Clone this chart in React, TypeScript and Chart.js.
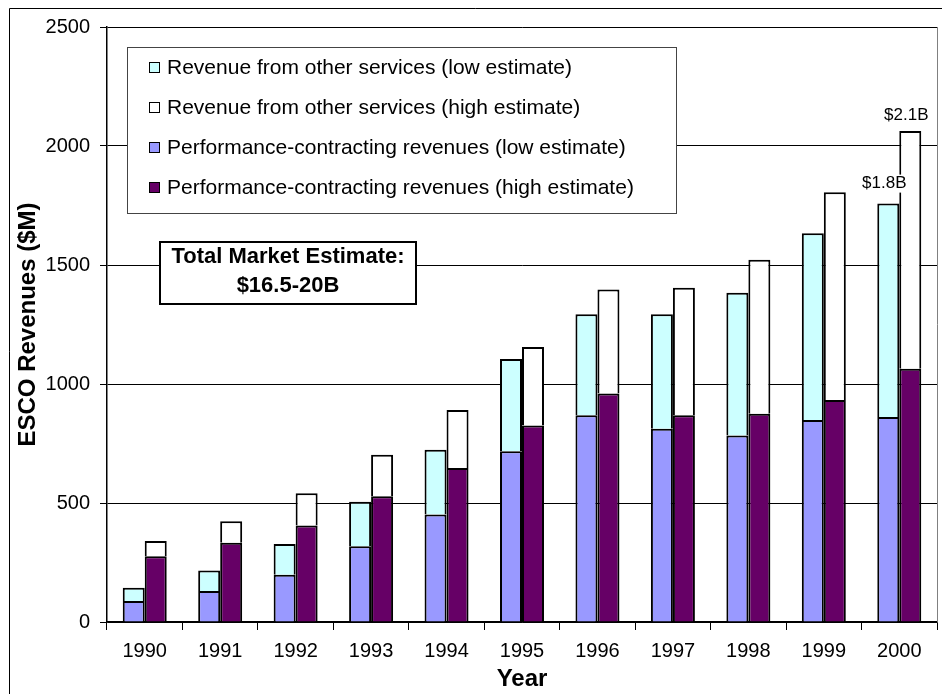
import React, { useEffect, useRef } from "react";
import { Chart, registerables } from "chart.js";

Chart.register(...registerables);

const years = ["1990", "1991", "1992", "1993", "1994", "1995", "1996", "1997", "1998", "1999", "2000"];
const perfLow = [88, 130, 199, 318, 452, 717, 869, 812, 784, 849, 861];
const otherLow = [56, 86, 129, 187, 272, 388, 424, 481, 599, 784, 897];
const perfHigh = [276, 333, 405, 528, 647, 826, 960, 869, 875, 933, 1064];
const otherHigh = [64, 90, 136, 175, 244, 329, 437, 535, 647, 873, 999];

const seriesNames = [
  "Performance-contracting revenues (low estimate)",
  "Revenue from other services (low estimate)",
  "Performance-contracting revenues (high estimate)",
  "Revenue from other services (high estimate)",
];
const legendOrder = [1, 3, 0, 2];
const totalBoxLines = ["Total Market Estimate:", "$16.5-20B"];
const annotations = [
  { text: "$1.8B", dataset: 1, index: 10 },
  { text: "$2.1B", dataset: 3, index: 10 },
];
const yTitle = "ESCO Revenues ($M)";
const xTitle = "Year";

const FONT = "'Liberation Sans', Arial, Helvetica, sans-serif";
const colors = ["#9999FF", "#CCFFFF", "#660066", "#FFFFFF"];

const overlay = {
  id: "overlay",
  beforeDraw(chart: any) {
    const ctx = chart.ctx;
    ctx.save();
    ctx.fillStyle = "#fff";
    ctx.fillRect(0, 0, chart.width, chart.height);
    ctx.strokeStyle = "#000";
    ctx.lineWidth = 1;
    ctx.beginPath();
    ctx.moveTo(9.5, chart.height);
    ctx.lineTo(9.5, 8.5);
    ctx.lineTo(chart.width, 8.5);
    ctx.stroke();
    ctx.restore();
  },
  afterDraw(chart: any) {
    const ctx = chart.ctx;
    const ca = chart.chartArea;
    ctx.save();
    // right frame of plot
    ctx.strokeStyle = "#808080";
    ctx.lineWidth = 1;
    ctx.beginPath();
    ctx.moveTo(Math.round(ca.right) + 0.5, ca.top);
    ctx.lineTo(Math.round(ca.right) + 0.5, ca.bottom);
    ctx.stroke();

    // legend box
    const lx = ca.left + 20, ly = ca.top + 20, lw = 549, lh = 166;
    ctx.fillStyle = "#fff";
    ctx.fillRect(lx, ly, lw, lh);
    ctx.strokeStyle = "#444";
    ctx.lineWidth = 1;
    ctx.strokeRect(Math.round(lx) + 0.5, Math.round(ly) + 0.5, lw, lh);
    ctx.font = `21px ${FONT}`;
    ctx.textBaseline = "middle";
    ctx.textAlign = "left";
    legendOrder.forEach((di, i) => {
      const cy = ly + 20 + i * 40;
      const ds = chart.data.datasets[di];
      ctx.fillStyle = ds.backgroundColor;
      ctx.fillRect(lx + 22, cy - 5, 10, 10);
      ctx.strokeStyle = "#000";
      ctx.strokeRect(Math.round(lx + 22) + 0.5, Math.round(cy - 5) + 0.5, 10, 10);
      ctx.fillStyle = "#000";
      ctx.fillText(ds.label, lx + 40, cy + 1);
    });

    // total market box
    const bx = ca.left + 53, by = ca.top + 215, bw = 256, bh = 62;
    ctx.fillStyle = "#fff";
    ctx.fillRect(bx, by, bw, bh);
    ctx.strokeStyle = "#000";
    ctx.lineWidth = 2;
    ctx.strokeRect(bx, by, bw, bh);
    ctx.fillStyle = "#000";
    ctx.font = `bold 22px ${FONT}`;
    ctx.textAlign = "center";
    totalBoxLines.forEach((t, i) => {
      ctx.fillText(t, bx + bw / 2, by + 15 + i * 29);
    });

    // value annotations
    ctx.font = `17px ${FONT}`;
    annotations.forEach((a, i) => {
      const el = chart.getDatasetMeta(a.dataset).data[a.index];
      const x = el.x - 4;
      const y = el.y - (i === 0 ? 20 : 16);
      const w = ctx.measureText(a.text).width;
      ctx.fillStyle = "#fff";
      ctx.fillRect(x - w / 2 - 1, y - 9, w + 2, 18);
      ctx.fillStyle = "#000";
      ctx.fillText(a.text, x, y);
    });
    ctx.restore();
  },
};

export default function App() {
  const ref = useRef<HTMLCanvasElement>(null);
  useEffect(() => {
    document.body.style.margin = "0";
    const series = [perfLow, otherLow, perfHigh, otherHigh];
    const stacks = ["low", "low", "high", "high"];
    const chart = new Chart(ref.current as HTMLCanvasElement, {
      type: "bar",
      data: {
        labels: years,
        datasets: series.map((d, i) => ({
          label: seriesNames[i],
          data: d,
          stack: stacks[i],
          backgroundColor: colors[i],
          borderColor: "#000",
          borderWidth: 2,
          borderSkipped: "start",
          barPercentage: 1,
          categoryPercentage: 0.583,
        })),
      },
      options: {
        animation: false,
        responsive: false,
        devicePixelRatio: 1,
        layout: { padding: { left: 0, right: 5, top: 27, bottom: 0 } },
        plugins: { legend: { display: false }, tooltip: { enabled: false } },
        scales: {
          x: {
            stacked: true,
            grid: { display: true, drawOnChartArea: false, drawTicks: true, tickLength: 8, color: "#000", tickColor: "#000" },
            border: { display: true, color: "#000", width: 1.5 },
            ticks: { color: "#000", font: { family: FONT, size: 20 }, padding: 9, maxRotation: 0 },
            title: { display: true, text: xTitle, color: "#000", font: { family: FONT, size: 24, weight: "bold" }, padding: { top: 5, bottom: 0 } },
            afterFit: (s: any) => { s.height = 72; },
          },
          y: {
            stacked: true,
            min: 0,
            max: 2500,
            ticks: { stepSize: 500, color: "#000", font: { family: FONT, size: 20 }, padding: 10, callback: (v: any) => String(v) },
            grid: { color: "#000", lineWidth: 1, tickLength: 7, tickColor: "#000" },
            border: { display: true, color: "#000", width: 1.5 },
            title: { display: true, text: yTitle, color: "#000", font: { family: FONT, size: 24, weight: "bold" }, padding: { top: 14, bottom: 0 } },
            afterFit: (s: any) => { s.width = 107; },
          },
        },
      },
      plugins: [overlay],
    } as any);
    return () => chart.destroy();
  }, []);
  return (
    <div style={{ position: "relative", width: 942, height: 694 }}>
      <canvas ref={ref} width={942} height={694} style={{ display: "block" }} />
    </div>
  );
}
